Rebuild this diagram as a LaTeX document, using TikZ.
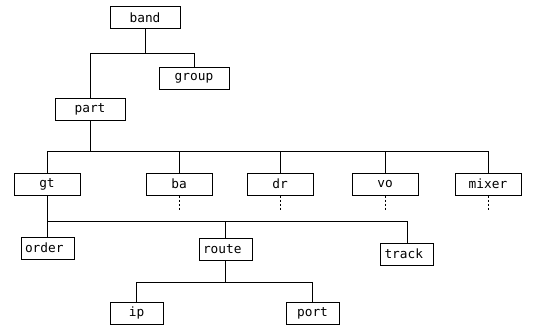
\documentclass[tikz,border=0pt]{standalone}
\usepackage{fontspec}
\setmonofont{DejaVu Sans Mono}
\usepackage{tikz}
\usetikzlibrary{positioning,calc}
\tikzset{box/.style={draw, line width=1pt, inner sep=0pt, minimum height=22pt,
                     font=\ttfamily\fontsize{12.8}{15}\selectfont},
         wbox/.style={box, minimum width=70pt},
         mbox/.style={box, minimum width=66pt},
         sbox/.style={box, minimum width=53pt},
         lbox/.style={box, text width=45pt, inner xsep=4pt, align=left},
         link/.style={line width=1pt},
         more/.style={line width=1pt, dash pattern=on 2pt off 2pt}
}

\begin{document}
\begin{tikzpicture}[x=1pt,y=-1pt]
  \useasboundingbox (0,0) rectangle (553,329);
  % top
  \node[wbox] (band)  at (145,17.5) {band};
  \node[wbox] (group) at (194,78)   {group};
  \node[wbox] (part)  at (90,109)   {part};
  % second level
  \node[mbox] (gt)    at (47,184)  {gt};
  \node[mbox] (ba)    at (179,184) {ba};
  \node[mbox] (dr)    at (280,184) {dr};
  \node[mbox] (vo)    at (385,184) {vo};
  \node[mbox] (mixer) at (488,184) {mixer};
  % below gt
  \node[lbox] (order) at (47.5,248)  {order};
  \node[lbox] (route) at (225.5,249.5) {route};
  \node[lbox] (track) at (407,254)   {track};
  \node[sbox] (ip)    at (136.5,313) {ip};
  \node[sbox] (port)  at (312.5,313) {port};

  \draw[link] (band.south) -- ++(0,24) coordinate (j1);
  \draw[link] (j1) -| (group.north);
  \draw[link] (j1) -| (part.north);

  \draw[link] (part.south) -- ++(0,31) coordinate (j2);
  \foreach \n in {gt,ba,dr,vo,mixer}
    \draw[link] (j2) -| (\n.north);
  \foreach \n in {ba,dr,vo,mixer}
    \draw[more] (\n.south) -- ++(0,14);

  \draw[link] (gt.south) -- ++(0,26) coordinate (j3);
  \foreach \n in {order,route,track}
    \draw[link] (j3) -| (\n.north);

  \draw[link] (route.south) -- ++(0,21) coordinate (j4);
  \draw[link] (j4) -| (ip.north);
  \draw[link] (j4) -| (port.north);
\end{tikzpicture}
\end{document}
